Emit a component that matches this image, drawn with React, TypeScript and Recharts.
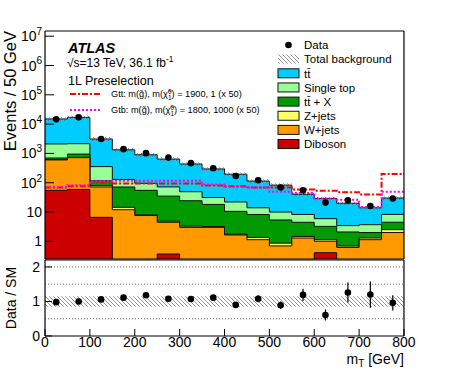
import React from "react";
import { ComposedChart, Area, Line, Scatter, XAxis, YAxis, ErrorBar, ReferenceLine } from "recharts";

// 50 GeV bins in mT
const binEdges = [0, 50, 100, 150, 200, 250, 300, 350, 400, 450, 500, 550, 600, 650, 700, 750, 800];

// background components (events / bin), stacking order bottom -> top
const diboson = [55, 59, 6.6, 0, 0, 0.37, 0, 0, 0, 0, 0, 0, 0.41, 0, 0, 0];
const wJets = [545, 660, 65, 12, 7.6, 4.1, 3.0, 3.0, 1.65, 1.14, 0.7, 1.3, 0.6, 0.62, 1.14, 2.0];
const zJets = [10, 10, 8, 2.5, 0.4, 0.4, 0.3, 0.2, 0.1, 0.22, 0.17, 0.17, 0.13, 0.07, 0.16, 0.5];
const ttX = [90, 220, 37, 57, 47, 30, 21, 15, 8.8, 6.9, 4.5, 3.0, 2.1, 1.4, 0.7, 2.0];
const singleTop = [1400, 1200, 238, 58, 40, 37, 25, 13, 11.5, 5.7, 4.6, 3.8, 2.7, 1.35, 1.7, 3.8];
const ttbar = [12900, 14850, 2745, 1200, 805, 568, 386, 264, 173, 100, 73, 32, 23, 16.5, 10.3, 21.7];
const bkgUnc = [0.15, 0.15, 0.15, 0.15, 0.15, 0.15, 0.15, 0.15, 0.15, 0.15, 0.15, 0.15, 0.15, 0.15, 0.15, 0.15];

const dataEvents = [14500, 17000, 3100, 1400, 1020, 720, 465, 310, 170, 122, 69, 55, 21, 25, 16, 29];
const gttX50 = [69, 76, 102, 95, 95, 95, 95, 81, 76, 69, 69, 59, 53, 47, 40, 200];
const gtbX50 = [72, 82, 113, 116, 116, 116, 116, 87, 72, 69, 49, 45, 29, 26.5, 15, 49];

const ratio = [0.98, 1.0, 1.06, 1.11, 1.18, 1.08, 1.07, 1.11, 0.9, 1.08, 0.89, 1.19, 0.61, 1.26, 1.2, 0.96];
const ratioErr = [0.01, 0.01, 0.02, 0.03, 0.04, 0.05, 0.05, 0.06, 0.08, 0.1, 0.11, 0.18, 0.16, 0.29, 0.38, 0.22];

const xTicks = [0, 100, 200, 300, 400, 500, 600, 700, 800];
const yTicks = [1, 10, 100, 1e3, 1e4, 1e5, 1e6, 1e7];
const ratioTicks = [0, 1, 2];

const W = 449;
const H = 369;
const LEFT = 45;
const RIGHT = 404;
const MAIN_TOP = 31;
const MAIN_BOTTOM = 259;
const RATIO_TOP = 260;
const RATIO_BOTTOM = 336;
const Y_MIN = 0.25;
const Y_MAX = 1.5e7;
const R_MAX = 2.2;
const AX = 0.01; // near-zero axis thickness so the plot area is set by margins only
const FONT = '"Liberation Sans", Arial, Helvetica, sans-serif';

const C = {
  ttbar: "#00ccff",
  singleTop: "#99ff99",
  ttX: "#009900",
  zJets: "#ffff66",
  wJets: "#ff9900",
  diboson: "#cc0000",
};

const nb = ttbar.length;
const rows = binEdges.map((x, i) => {
  const b = Math.min(i, nb - 1);
  const c1 = diboson[b];
  const c2 = c1 + wJets[b];
  const c3 = c2 + zJets[b];
  const c4 = c3 + ttX[b];
  const c5 = c4 + singleTop[b];
  const tot = c5 + ttbar[b];
  const u = bkgUnc[b];
  return {
    x,
    dib: Math.max(c1, 1e-3),
    wj: c2,
    zj: c3,
    ttx: c4,
    st: c5,
    tt: tot,
    unc: [tot * (1 - u), tot * (1 + u)],
    runc: [1 - u, 1 + u],
    gtt: gttX50[b],
    gtb: gtbX50[b],
  };
});

const centers = binEdges.slice(0, -1).map((e, i) => (e + binEdges[i + 1]) / 2);
const dataRows = centers.map((x, i) => ({ x, data: dataEvents[i] }));
const ratioRows = centers.map((x, i) => ({ x, ratio: ratio[i], err: ratioErr[i] }));

const minorX: number[] = [];
for (let v = 0; v <= 800; v += 20) if (v % 100 !== 0) minorX.push(v);
const minorY: number[] = [];
for (let k = -1; k <= 7; k++) for (let m = 2; m <= 9; m++) {
  const v = m * Math.pow(10, k);
  if (v >= Y_MIN && v <= Y_MAX) minorY.push(v);
}
const minorR: number[] = [];
for (let v = 0.25; v < R_MAX; v += 0.25) if (Math.abs(v - Math.round(v)) > 0.01) minorR.push(v);

const LogTick = (props: any) => {
  const { x, y, payload } = props;
  const e = Math.round(Math.log10(payload.value));
  const st = { fill: "#000", fontSize: 14, fontFamily: FONT };
  if (e < 2)
    return (
      <text x={x} y={y} dy="0.36em" textAnchor="end" {...st}>
        {e === 0 ? "1" : "10"}
      </text>
    );
  return (
    <text x={x} y={y} textAnchor="end" {...st}>
      <tspan dy="0.36em">10</tspan>
      <tspan dy="-0.62em" fontSize={10}>{e}</tspan>
    </text>
  );
};

const Dot = (p: any) => <circle cx={p.cx} cy={p.cy} r={3.3} fill="#000" />;

const line = { stroke: "#000", strokeWidth: 1.2 };
const tickLn = { stroke: "#000", strokeWidth: 1 };
const tickTxt = { fill: "#000", fontSize: 14, fontFamily: FONT };

const legendRows = [
  { label: "t\u0074\u0304", fill: C.ttbar },
  { label: "Single top", fill: C.singleTop },
  { label: "t\u0074\u0304 + X", fill: C.ttX },
  { label: "Z+jets", fill: C.zJets },
  { label: "W+jets", fill: C.wJets },
  { label: "Diboson", fill: C.diboson },
];

const mainMargin = { top: MAIN_TOP, right: W - RIGHT, bottom: 1, left: LEFT };
const ratioMargin = { top: 5, right: W - RIGHT, bottom: H - RATIO_BOTTOM, left: LEFT };

const MainSeries = () => (
  <ComposedChart width={W} height={MAIN_BOTTOM + 1} data={rows} margin={mainMargin}>
    <XAxis xAxisId="b" dataKey="x" type="number" domain={[0, 800]} allowDataOverflow hide />
    <YAxis yAxisId="l" type="number" scale="log" domain={[Y_MIN, Y_MAX]} allowDataOverflow hide />
    <Area xAxisId="b" yAxisId="l" type="stepAfter" dataKey="tt" fill={C.ttbar} fillOpacity={1} stroke="#111" strokeWidth={1} isAnimationActive={false} dot={false} activeDot={false} />
    <Area xAxisId="b" yAxisId="l" type="stepAfter" dataKey="st" fill={C.singleTop} fillOpacity={1} stroke="#111" strokeWidth={1} isAnimationActive={false} dot={false} activeDot={false} />
    <Area xAxisId="b" yAxisId="l" type="stepAfter" dataKey="ttx" fill={C.ttX} fillOpacity={1} stroke="#111" strokeWidth={1} isAnimationActive={false} dot={false} activeDot={false} />
    <Area xAxisId="b" yAxisId="l" type="stepAfter" dataKey="zj" fill={C.zJets} fillOpacity={1} stroke="#111" strokeWidth={1} isAnimationActive={false} dot={false} activeDot={false} />
    <Area xAxisId="b" yAxisId="l" type="stepAfter" dataKey="wj" fill={C.wJets} fillOpacity={1} stroke="#111" strokeWidth={1} isAnimationActive={false} dot={false} activeDot={false} />
    <Area xAxisId="b" yAxisId="l" type="stepAfter" dataKey="dib" fill={C.diboson} fillOpacity={1} stroke="#111" strokeWidth={1} isAnimationActive={false} dot={false} activeDot={false} />
    <Area xAxisId="b" yAxisId="l" type="stepAfter" dataKey="unc" fill="url(#hatch)" fillOpacity={1} stroke="none" isAnimationActive={false} dot={false} activeDot={false} />
    <Line xAxisId="b" yAxisId="l" type="stepAfter" dataKey="gtt" stroke="#ff0000" strokeWidth={2} strokeDasharray="6 2 2 2" dot={false} activeDot={false} isAnimationActive={false} />
    <Line xAxisId="b" yAxisId="l" type="stepAfter" dataKey="gtb" stroke="#ff00ff" strokeWidth={2} strokeDasharray="2 2" dot={false} activeDot={false} isAnimationActive={false} />
    <Scatter xAxisId="b" yAxisId="l" data={dataRows} dataKey="data" shape={Dot} isAnimationActive={false} />
  </ComposedChart>
);

// frame, ticks and labels drawn in a second chart on top so the ticks sit over the filled histograms
const MainAxes = () => (
  <ComposedChart width={W} height={MAIN_BOTTOM + 1} data={rows} margin={mainMargin}>
    <XAxis xAxisId="b" dataKey="x" type="number" domain={[0, 800]} allowDataOverflow ticks={xTicks} interval={0} tick={false} tickSize={-9} height={AX} axisLine={line} tickLine={tickLn} />
    <XAxis xAxisId="bm" dataKey="x" type="number" domain={[0, 800]} allowDataOverflow ticks={minorX} interval={0} tick={false} tickSize={-4.5} height={AX} axisLine={false} tickLine={tickLn} />
    <XAxis xAxisId="t" orientation="top" dataKey="x" type="number" domain={[0, 800]} allowDataOverflow ticks={xTicks} interval={0} tick={false} tickSize={-9} height={AX} axisLine={line} tickLine={tickLn} />
    <XAxis xAxisId="tm" orientation="top" dataKey="x" type="number" domain={[0, 800]} allowDataOverflow ticks={minorX} interval={0} tick={false} tickSize={-4.5} height={AX} axisLine={false} tickLine={tickLn} />
    <YAxis yAxisId="l" type="number" scale="log" domain={[Y_MIN, Y_MAX]} allowDataOverflow ticks={yTicks} interval={0} width={AX} tickSize={-9} tickMargin={12} tick={LogTick} axisLine={line} tickLine={tickLn} />
    <YAxis yAxisId="lm" type="number" scale="log" domain={[Y_MIN, Y_MAX]} allowDataOverflow ticks={minorY} interval={0} width={AX} tickSize={-4.5} tick={false} axisLine={false} tickLine={tickLn} />
    <YAxis yAxisId="r" orientation="right" type="number" scale="log" domain={[Y_MIN, Y_MAX]} allowDataOverflow ticks={yTicks} interval={0} width={AX} tickSize={-9} tick={false} axisLine={line} tickLine={tickLn} />
    <YAxis yAxisId="rm" orientation="right" type="number" scale="log" domain={[Y_MIN, Y_MAX]} allowDataOverflow ticks={minorY} interval={0} width={AX} tickSize={-4.5} tick={false} axisLine={false} tickLine={tickLn} />
  </ComposedChart>
);

const RatioSeries = () => (
  <ComposedChart width={W} height={H - RATIO_TOP + 5} data={rows} margin={ratioMargin}>
    <XAxis xAxisId="b" dataKey="x" type="number" domain={[0, 800]} allowDataOverflow hide />
    <YAxis yAxisId="l" type="number" domain={[0, R_MAX]} allowDataOverflow hide />
    <ReferenceLine xAxisId="b" yAxisId="l" y={0.5} stroke="#666" strokeDasharray="1 2" />
    <ReferenceLine xAxisId="b" yAxisId="l" y={1.5} stroke="#666" strokeDasharray="1 2" />
    <ReferenceLine xAxisId="b" yAxisId="l" y={2} stroke="#666" strokeDasharray="1 2" />
    <Area xAxisId="b" yAxisId="l" type="stepAfter" dataKey="runc" fill="url(#hatch)" fillOpacity={1} stroke="none" isAnimationActive={false} dot={false} activeDot={false} />
    <Scatter xAxisId="b" yAxisId="l" data={ratioRows} dataKey="ratio" shape={Dot} isAnimationActive={false}>
      <ErrorBar dataKey="err" direction="y" width={0} stroke="#000" strokeWidth={1.2} />
    </Scatter>
  </ComposedChart>
);

const RatioAxes = () => (
  <ComposedChart width={W} height={H - RATIO_TOP + 5} data={rows} margin={ratioMargin}>
    <XAxis xAxisId="b" dataKey="x" type="number" domain={[0, 800]} allowDataOverflow ticks={xTicks} interval={0} tick={tickTxt} tickSize={-7} tickMargin={8} height={AX} axisLine={line} tickLine={tickLn} />
    <XAxis xAxisId="bm" dataKey="x" type="number" domain={[0, 800]} allowDataOverflow ticks={minorX} interval={0} tick={false} tickSize={-3.5} height={AX} axisLine={false} tickLine={tickLn} />
    <XAxis xAxisId="t" orientation="top" dataKey="x" type="number" domain={[0, 800]} allowDataOverflow ticks={xTicks} interval={0} tick={false} tickSize={-7} height={AX} axisLine={line} tickLine={tickLn} />
    <XAxis xAxisId="tm" orientation="top" dataKey="x" type="number" domain={[0, 800]} allowDataOverflow ticks={minorX} interval={0} tick={false} tickSize={-3.5} height={AX} axisLine={false} tickLine={tickLn} />
    <YAxis yAxisId="l" type="number" domain={[0, R_MAX]} allowDataOverflow ticks={ratioTicks} interval={0} width={AX} tickSize={-7} tickMargin={12} tick={tickTxt} axisLine={line} tickLine={tickLn} />
    <YAxis yAxisId="lm" type="number" domain={[0, R_MAX]} allowDataOverflow ticks={minorR} interval={0} width={AX} tickSize={-3.5} tick={false} axisLine={false} tickLine={tickLn} />
    <YAxis yAxisId="r" orientation="right" type="number" domain={[0, R_MAX]} allowDataOverflow ticks={ratioTicks} interval={0} width={AX} tickSize={-7} tick={false} axisLine={line} tickLine={tickLn} />
    <YAxis yAxisId="rm" orientation="right" type="number" domain={[0, R_MAX]} allowDataOverflow ticks={minorR} interval={0} width={AX} tickSize={-3.5} tick={false} axisLine={false} tickLine={tickLn} />
  </ComposedChart>
);

const Overlay = () => {
  const rowY = (i: number) => 45 + 14.15 * i;
  return (
    <svg width={W} height={H} style={{ position: "absolute", left: 0, top: 0, pointerEvents: "none" }} fontFamily={FONT}>
      <defs>
        <pattern id="hatch" patternUnits="userSpaceOnUse" width={4} height={4}>
          <path d="M-1,-1 L5,5 M-1,3 L1,5 M3,-1 L5,1" stroke="#666" strokeWidth={0.7} />
        </pattern>
      </defs>

      <text x={68} y={53} fontSize={14.5} fontWeight="bold" fontStyle="italic">ATLAS</text>
      <text x={67} y={67} fontSize={12}>
        √s=13 TeV, 36.1 fb<tspan dy={-5} fontSize={8.5}>-1</tspan>
      </text>
      <text x={68} y={85} fontSize={12.5}>1L Preselection</text>

      <line x1={70} x2={100} y1={94} y2={94} stroke="#ff0000" strokeWidth={2} strokeDasharray="6 2 2 2" />
      <text x={111} y={97} fontSize={9.2}>
        Gtt: m(g̃), m(χ̃<tspan dy={-3.5} fontSize={6.5}>0</tspan>
        <tspan dx={-3.6} dy={6.5} fontSize={6.5}>1</tspan>
        <tspan dy={-3}>) = 1900, 1 (x 50)</tspan>
      </text>
      <line x1={70} x2={100} y1={110} y2={110} stroke="#ff00ff" strokeWidth={2} strokeDasharray="2 2" />
      <text x={111} y={113} fontSize={9.2}>
        Gtb: m(g̃), m(χ̃<tspan dy={-3.5} fontSize={6.5}>0</tspan>
        <tspan dx={-3.6} dy={6.5} fontSize={6.5}>1</tspan>
        <tspan dy={-3}>) = 1800, 1000 (x 50)</tspan>
      </text>

      <circle cx={288.5} cy={rowY(0)} r={3.3} fill="#000" />
      <text x={304} y={rowY(0) + 4.2} fontSize={11.5}>Data</text>
      <rect x={278} y={rowY(1) - 4.5} width={21} height={9} fill="url(#hatch)" />
      <text x={304} y={rowY(1) + 4.2} fontSize={11.5}>Total background</text>
      {legendRows.map((r, i) => (
        <g key={r.label}>
          <rect x={278} y={rowY(i + 2) - 4.5} width={21} height={9} fill={r.fill} stroke="#111" strokeWidth={1} />
          <text x={304} y={rowY(i + 2) + 4.2} fontSize={11.5}>{r.label}</text>
        </g>
      ))}

      <text transform="rotate(-90, 16, 31)" x={16} y={31} fontSize={16.5} textAnchor="end">Events / 50 GeV</text>
      <text transform="rotate(-90, 16, 298)" x={16} y={298} fontSize={14} textAnchor="middle">Data / SM</text>
      <text x={RIGHT} y={364} fontSize={14} textAnchor="end">
        m<tspan dy={3} fontSize={10}>T</tspan>
        <tspan dy={-3}> [GeV]</tspan>
      </text>
    </svg>
  );
};

export default function App() {
  const abs = (top: number): React.CSSProperties => ({ position: "absolute", left: 0, top });
  return (
    <div style={{ position: "absolute", left: 0, top: 0, width: W, height: H, background: "#fff" }}>
      <div style={abs(0)}>
        <MainSeries />
      </div>
      <div style={abs(RATIO_TOP - 5)}>
        <RatioSeries />
      </div>
      <div style={abs(0)}>
        <MainAxes />
      </div>
      <div style={abs(RATIO_TOP - 5)}>
        <RatioAxes />
      </div>
      <Overlay />
    </div>
  );
}
